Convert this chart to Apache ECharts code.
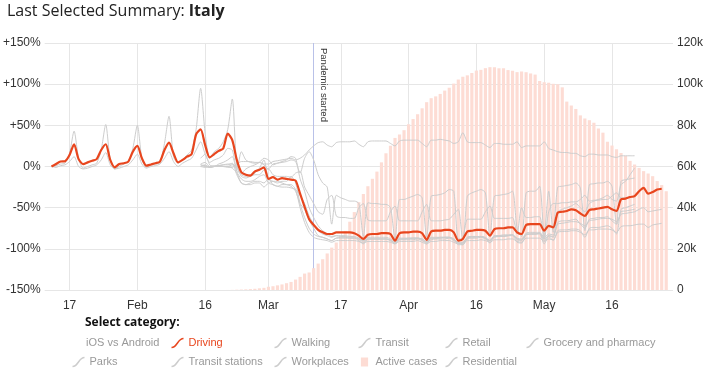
<!DOCTYPE html>
<html>
<head>
<meta charset="utf-8">
<title>Last Selected Summary: Italy</title>
<script src="https://cdn.jsdelivr.net/npm/echarts/dist/echarts.min.js"></script>
<style>
  html, body { margin: 0; padding: 0; background: #fff; }
  #chart { width: 711px; height: 377px; }
</style>
</head>
<body>
<div id="chart"></div>
<script>
// days on the x axis (one category per day)
var firstDay = Date.UTC(2020, 0, 12);
var dayCount = 139;
var days = [];
for (var i = 0; i < dayCount; i++) {
  days.push(new Date(firstDay + i * 86400000).toISOString().slice(0, 10));
}

var tickDays = ['2020-01-17', '2020-02-01', '2020-02-16', '2020-03-01', '2020-03-17',
                '2020-04-01', '2020-04-16', '2020-05-01', '2020-05-16'];
var tickLabels = ['17', 'Feb', '16', 'Mar', '17', 'Apr', '16', 'May', '16'];

var pandemicDay = '2020-03-11';
var pandemicTop = 150;

// apple mobility, % change, from 2020-01-13
var appleStart = '2020-01-13';
var driving = [
  0, 3, 6, 6.5, 14, 27, 9,
  3, 5, 7, 9, 20, 27, 8,
  -1, 3, 4, 6, 18, 25, 10,
  1, 2.5, 4, 6, 20, 29, 16,
  5, 8, 12, 15, 39, 45, 26,
  11, 15, 19, 22, 40, 32, 8,
  -7, -10, -11, -6, -4, -1, -15,
  -13, -16, -14, -15, -16, -17, -33,
  -49, -64, -71, -77, -80, -82, -82,
  -80, -80, -80, -80, -81, -84, -88,
  -83, -82, -82, -81, -81, -82, -90,
  -81, -80, -80, -79, -79, -81, -89,
  -79, -78, -78, -77, -77, -80, -90,
  -88, -79, -78, -77, -77, -78, -84,
  -76, -75, -75, -74, -74, -80, -82,
  -71, -70, -70, -70, -78, -72, -74,
  -56, -55, -54, -52, -53, -57, -60,
  -53, -52, -51, -50, -49, -52, -54,
  -40, -39, -37, -36, -30, -26, -33,
  -31, -28, -27
];
var walking = [
  0, 1, 3, 4, 16, 43, 10,
  -2, 0, 2, 4, 20, 51, 8,
  -3, 0, 3, 6, 22, 50, 10,
  -1, 2, 3, 5, 28, 61, 12,
  4, 8, 14, 20, 45, 95, 40,
  10, 18, 22, 30, 45, 82, 0,
  -10, -12, -10, -8, -2, 8, -15,
  -18, -20, -18, -18, -12, -20, -45,
  -62, -75, -82, -85, -86, -88, -90,
  -87, -86, -86, -87, -87, -88, -92,
  -88, -88, -88, -88, -88, -89, -93,
  -88, -88, -87, -87, -87, -88, -92,
  -87, -87, -86, -86, -86, -88, -93,
  -92, -86, -85, -85, -85, -86, -90,
  -84, -84, -83, -83, -83, -87, -88,
  -81, -80, -80, -80, -86, -82, -83,
  -70, -69, -68, -67, -67, -69, -72,
  -66, -65, -64, -63, -63, -64, -67,
  -58, -57, -56, -55, -52, -50, -55,
  -54, -53, -52
];
var transit = [
  0, -1, 1, 2, 6, 12, 0,
  -3, -2, 0, 2, 8, 17, 2,
  -3, -2, 0, 2, 8, 15, 3,
  -2, 0, 1, 3, 10, 18, 6,
  0, 4, 7, 10, 20, 30, 15,
  5, 8, 10, 14, 22, 20, -6,
  -15, -18, -18, -16, -12, -10, -20,
  -22, -24, -22, -22, -22, -28, -50,
  -68, -80, -86, -88, -89, -90, -92,
  -90, -90, -90, -90, -90, -91, -93,
  -91, -91, -91, -91, -91, -92, -94,
  -91, -91, -91, -91, -90, -92, -94,
  -91, -91, -90, -90, -90, -92, -94,
  -93, -90, -90, -90, -89, -90, -92,
  -89, -89, -89, -88, -88, -91, -92,
  -87, -87, -87, -87, -91, -88, -89,
  -80, -79, -79, -78, -78, -80, -83,
  -77, -77, -76, -76, -76, -77, -80,
  -73, -72, -72, -71, -70, -70, -74,
  -71, -70, -69
];

// google community mobility, % change, from 2020-02-15
var googleStart = '2020-02-15';
var retail = [
  3, 5, 0, 0, 1, 2, 2,
  4, -10, -20, -22, -22, -20, -20,
  -25, -20, -18, -18, -20, -22, -24,
  -30, -45, -52, -65, -75, -84, -86,
  -88, -90, -87, -87, -87, -87, -87,
  -90, -94, -88, -88, -88, -88, -88,
  -90, -94, -88, -88, -88, -87, -87,
  -89, -94, -87, -87, -87, -86, -86,
  -88, -95, -95, -87, -86, -86, -85,
  -87, -93, -85, -85, -85, -84, -84,
  -92, -93, -83, -82, -82, -82, -94,
  -85, -90, -78, -77, -77, -76, -76,
  -78, -86, -75, -74, -74, -73, -72,
  -75, -82, -52, -50, -48, -46
];
var grocery = [
  2, 0, -1, 0, 1, 2, 3,
  3, -2, 18, 8, 5, 4, 5,
  2, -3, 3, 4, 5, 6, 8,
  6, -8, 10, 18, 8, -10, -20,
  -25, -70, -35, -38, -40, -42, -42,
  -45, -85, -44, -45, -45, -46, -46,
  -50, -88, -40, -40, -38, -36, -34,
  -38, -86, -36, -35, -34, -32, -28,
  -30, -88, -88, -36, -32, -30, -28,
  -32, -85, -36, -35, -34, -33, -30,
  -75, -85, -32, -30, -30, -24, -85,
  -30, -80, -25, -24, -23, -22, -20,
  -26, -78, -22, -21, -20, -20, -18,
  -24, -70, -18, -16, -15, -14
];
var parks = [
  10, 15, 2, 0, 3, 5, 8,
  12, -5, -8, -3, 0, 2, 5,
  10, 8, 2, 4, 6, 8, 12,
  10, -15, -30, -50, -62, -72, -78,
  -82, -85, -84, -85, -85, -86, -86,
  -88, -90, -88, -88, -88, -88, -88,
  -90, -92, -89, -89, -89, -89, -88,
  -90, -92, -89, -88, -88, -88, -87,
  -90, -93, -95, -88, -87, -87, -86,
  -88, -90, -86, -85, -85, -84, -83,
  -88, -89, -83, -82, -82, -81, -88,
  -84, -85, -55, -52, -50, -48, -45,
  -50, -55, -45, -42, -40, -38, -35,
  -40, -42, -22, -18, -10, -2
];
var transitStations = [
  0, 2, -1, 0, 1, 0, 0,
  -2, -8, -20, -22, -20, -18, -18,
  -20, -15, -22, -24, -25, -25, -26,
  -28, -35, -45, -60, -70, -78, -82,
  -84, -86, -84, -84, -84, -85, -85,
  -87, -90, -86, -86, -86, -86, -86,
  -88, -91, -87, -87, -87, -87, -87,
  -88, -91, -86, -86, -86, -86, -86,
  -89, -92, -93, -86, -85, -85, -85,
  -87, -90, -84, -84, -84, -84, -83,
  -89, -90, -82, -82, -82, -81, -90,
  -84, -86, -68, -66, -66, -65, -64,
  -70, -75, -64, -63, -62, -62, -61,
  -66, -70, -55, -54, -53, -52
];
var workplaces = [
  2, 1, -1, 0, 1, 0, 0,
  2, 0, -12, -14, -12, -10, -10,
  -4, -3, -10, -12, -12, -12, -13,
  -8, -6, -25, -35, -45, -55, -58,
  -40, -35, -60, -62, -62, -63, -63,
  -50, -45, -65, -66, -66, -66, -66,
  -55, -48, -66, -66, -66, -66, -66,
  -55, -46, -66, -66, -66, -65, -64,
  -58, -52, -88, -64, -64, -64, -64,
  -55, -48, -63, -63, -63, -63, -62,
  -82, -50, -62, -62, -61, -61, -88,
  -55, -45, -45, -44, -44, -43, -43,
  -40, -35, -42, -41, -41, -40, -40,
  -36, -32, -38, -38, -37, -37
];
var residential = [
  0, -1, 0, 1, 0, 0, -1,
  -1, 3, 6, 6, 6, 5, 5,
  3, 3, 6, 7, 8, 9, 10,
  8, 10, 14, 20, 25, 29, 30,
  26, 24, 29, 30, 30, 30, 31,
  27, 24, 30, 31, 31, 31, 31,
  28, 25, 31, 32, 32, 32, 32,
  28, 24, 32, 32, 33, 32, 31,
  28, 30, 41, 30, 29, 29, 29,
  26, 23, 28, 28, 27, 27, 27,
  30, 23, 25, 25, 25, 25, 30,
  22, 20, 18, 17, 17, 16, 16,
  13, 12, 15, 15, 14, 14, 14,
  12, 11, 13, 13, 13, 13
];

// active cases, from 2020-02-21
var casesStart = '2020-02-21';
var activeCases = [
  19, 59, 150, 221, 311, 438, 593, 821, 1049,
  1577, 1835, 2263, 2706, 3296, 3916, 5061, 6387, 7985, 8514,
  10590, 12839, 14955, 17750, 20603, 23073, 26062, 28710, 33190, 37860,
  42681, 46638, 50418, 54030, 57521, 62013, 66414, 70065, 73880, 75528, 77635,
  80572, 83049, 85388, 88274, 91246, 93187, 94067, 95262, 96877, 98273,
  100269, 102253, 103616, 104291, 105418, 106607, 106962, 107771, 108257, 108237,
  107709, 107699, 106848, 106527, 105847, 106103, 105813, 105205, 104657, 101551,
  100943, 100704, 100179, 99980, 98467, 91528, 89624, 87961, 84842, 83324,
  82488, 81266, 78457, 76440, 72070, 70187, 68351, 66553, 65129, 62752,
  60960, 59322, 57752, 56594, 55300, 52942, 50966, 47986
];

// lay a series on the day axis
function place(values, startDay) {
  var offset = days.indexOf(startDay);
  var out = [];
  for (var i = 0; i < days.length; i++) {
    var j = i - offset;
    out.push(j >= 0 && j < values.length ? values[j] : null);
  }
  return out;
}

function isTick(index, value) {
  return tickDays.indexOf(value) >= 0;
}

var RED = '#e8461e';
var GREY = '#cdcdcd';
var GREY_TEXT = '#999';
var CASES = '#fddcd4';
var MARK = '#b9c1e8';
var FONT = 'Liberation Sans';
var curveIcon = 'path://M0,9 C6,9 6,0 12,0';
var squareIcon = 'path://M0,0 L8,0 L8,10 L0,10 Z';

function greyLine(name, values, start) {
  return {
    name: name,
    type: 'line',
    yAxisIndex: 0,
    data: place(values, start),
    symbol: 'none',
    smooth: 0.25,
    lineStyle: { color: GREY, width: 1 },
    itemStyle: { color: GREY },
    z: 3
  };
}

function legendItem(name, colour, icon) {
  return {
    name: name,
    icon: icon || curveIcon,
    itemStyle: { color: 'none', borderColor: colour, borderWidth: 1.5 },
    textStyle: { color: name === 'Driving' ? RED : GREY_TEXT }
  };
}

function legendColumn(left, top, items) {
  return {
    orient: 'vertical',
    left: left,
    top: top,
    padding: 0,
    itemWidth: 12,
    itemHeight: 9,
    itemGap: 5,
    selectedMode: false,
    textStyle: { fontFamily: FONT, fontSize: 11, lineHeight: 14, color: GREY_TEXT },
    data: items
  };
}

var myChart = echarts.init(document.getElementById('chart'));

myChart.setOption({
  animation: false,
  backgroundColor: '#fff',
  title: [{
    text: 'Last Selected Summary: {b|Italy}',
    left: 7,
    top: 3,
    padding: 0,
    textStyle: {
      fontFamily: 'Open Sans', fontSize: 16, fontWeight: 'normal', color: '#222',
      rich: { b: { fontFamily: 'Open Sans', fontSize: 16, fontWeight: 'bold', color: '#222' } }
    }
  }, {
    text: 'Select category:',
    left: 85,
    top: 317,
    padding: 0,
    textStyle: { fontFamily: 'Open Sans', fontSize: 12, fontWeight: 'bold', color: '#111' }
  }, {
    text: 'iOS vs Android',
    left: 86,
    top: 336,
    padding: 0,
    textStyle: { fontFamily: FONT, fontSize: 11, lineHeight: 14, fontWeight: 'normal', color: GREY_TEXT }
  }],
  legend: [
    legendColumn(70, 355, [legendItem('Parks', GREY)]),
    legendColumn(169, 336, [legendItem('Driving', RED), legendItem('Transit stations', GREY)]),
    legendColumn(272, 336, [legendItem('Walking', GREY), legendItem('Workplaces', GREY)]),
    legendColumn(356, 336, [legendItem('Transit', GREY), {
      name: 'Active cases', icon: squareIcon,
      itemStyle: { color: CASES, borderWidth: 0 }, textStyle: { color: GREY_TEXT }
    }]),
    legendColumn(443, 336, [legendItem('Retail', GREY), legendItem('Residential', GREY)]),
    legendColumn(524, 336, [legendItem('Grocery and pharmacy', GREY)])
  ],
  grid: { left: 44, right: 38, top: 43, bottom: 87 },
  xAxis: [{
    type: 'category',
    data: days,
    boundaryGap: true,
    axisLine: { show: false },
    axisTick: { show: false },
    axisLabel: {
      interval: isTick,
      formatter: function (v) { return tickLabels[tickDays.indexOf(v)]; },
      color: '#333', fontFamily: FONT, fontSize: 12, margin: 10
    },
    splitLine: { show: true, interval: isTick, alignWithLabel: true, lineStyle: { color: '#e6e6e6' } }
  }, {
    // carries only the "Pandemic started" line
    type: 'category',
    data: days,
    boundaryGap: true,
    position: 'bottom',
    axisLine: { show: false },
    axisTick: { show: false },
    axisLabel: { show: false },
    splitLine: {
      show: true,
      alignWithLabel: true,
      interval: function (index, value) { return value === pandemicDay; },
      lineStyle: { color: MARK, width: 1 }
    }
  }],
  yAxis: [{
    type: 'value',
    min: -150, max: 150, interval: 50,
    axisLine: { show: false },
    axisTick: { show: false },
    axisLabel: {
      formatter: function (v) { return (v > 0 ? '+' : '') + v + '%'; },
      color: '#333', fontFamily: FONT, fontSize: 12, margin: 4
    },
    splitLine: { lineStyle: { color: '#e6e6e6' } }
  }, {
    type: 'value',
    position: 'right',
    min: 0, max: 120000, interval: 20000,
    axisLine: { show: false },
    axisTick: { show: false },
    axisLabel: {
      formatter: function (v) { return v === 0 ? '0' : (v / 1000) + 'k'; },
      color: '#333', fontFamily: FONT, fontSize: 12, margin: 4
    },
    splitLine: { show: false }
  }],
  series: [{
    name: 'Active cases',
    type: 'bar',
    yAxisIndex: 1,
    data: place(activeCases, casesStart),
    barCategoryGap: '30%',
    itemStyle: { color: CASES },
    z: 1
  },
  greyLine('Walking', walking, appleStart),
  greyLine('Transit', transit, appleStart),
  greyLine('Retail', retail, googleStart),
  greyLine('Grocery and pharmacy', grocery, googleStart),
  greyLine('Parks', parks, googleStart),
  greyLine('Transit stations', transitStations, googleStart),
  greyLine('Workplaces', workplaces, googleStart),
  greyLine('Residential', residential, googleStart),
  {
    name: 'Driving',
    type: 'line',
    yAxisIndex: 0,
    data: place(driving, appleStart),
    symbol: 'none',
    smooth: 0.25,
    lineStyle: { color: RED, width: 2.2 },
    itemStyle: { color: RED },
    z: 5
  }]
});

// vertical label beside the pandemic line, anchored through the chart's own scales
var anchor = myChart.convertToPixel({ gridIndex: 0 }, [pandemicDay, pandemicTop]);
if (anchor) {
  myChart.setOption({
    graphic: [{
      type: 'text',
      x: anchor[0] + 10,
      y: anchor[1] + 5,
      rotation: -Math.PI / 2,
      silent: true,
      z: 10,
      style: {
        text: 'Pandemic started',
        fill: '#333',
        font: '9.5px "Liberation Sans"',
        textAlign: 'left',
        textVerticalAlign: 'middle'
      }
    }]
  });
}
</script>
</body>
</html>
